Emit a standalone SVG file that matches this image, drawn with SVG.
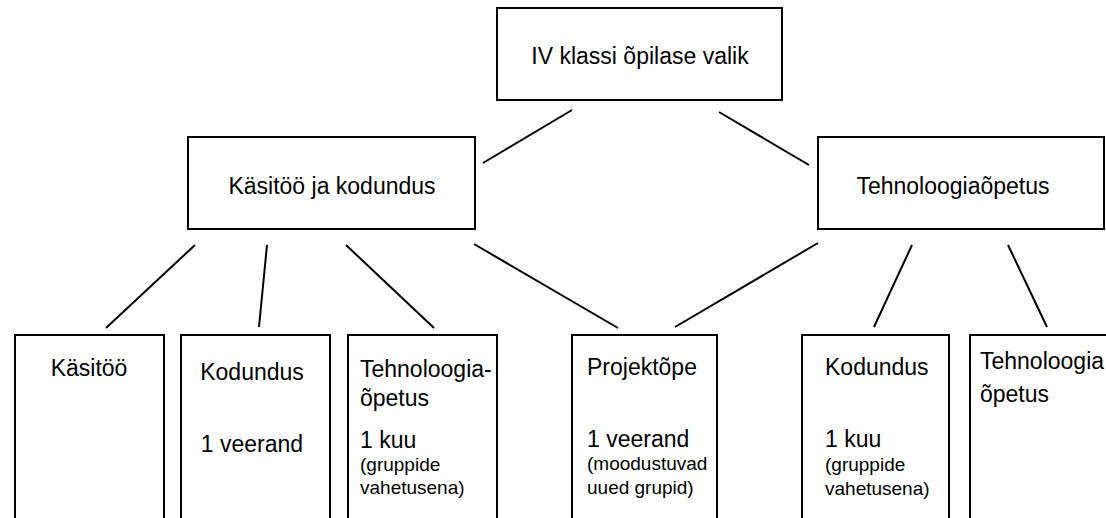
<svg xmlns="http://www.w3.org/2000/svg" width="1106" height="518" viewBox="0 0 1106 518">
<style>
.b{fill:#fff;stroke:#000;stroke-width:2}
.t{font-family:"Liberation Sans",Arial,sans-serif;font-size:23px;fill:#000}
.s{font-family:"Liberation Sans",Arial,sans-serif;font-size:19px;fill:#000}
.c{text-anchor:middle}
.l{stroke:#000;stroke-width:2;fill:none}
</style>
<rect width="1106" height="518" fill="#fff"/>
<g id="connectors">
<line class="l" x1="572" y1="110" x2="483" y2="163"/>
<line class="l" x1="719" y1="112" x2="809" y2="165"/>
<line class="l" x1="195" y1="245" x2="106" y2="328"/>
<line class="l" x1="267" y1="245" x2="259" y2="327"/>
<line class="l" x1="346" y1="245" x2="434" y2="328"/>
<line class="l" x1="474" y1="244" x2="618" y2="328"/>
<line class="l" x1="818" y1="243" x2="675" y2="327"/>
<line class="l" x1="912" y1="245" x2="874" y2="327"/>
<line class="l" x1="1008" y1="245" x2="1047" y2="327"/>
</g>
<g id="root">
<rect class="b" x="497" y="8" width="285" height="92"/>
<text class="t c" x="640" y="64">IV klassi õpilase valik</text>
</g>
<g id="kasitoo-kodundus">
<rect class="b" x="188" y="137" width="287" height="92"/>
<text class="t c" x="332" y="194">Käsitöö ja kodundus</text>
</g>
<g id="tehnoloogiaopetus">
<rect class="b" x="818" y="137" width="286" height="92"/>
<text class="t c" x="953" y="194">Tehnoloogiaõpetus</text>
</g>
<g id="kasitoo">
<rect class="b" x="15" y="335" width="149" height="200"/>
<text class="t c" x="89" y="376">Käsitöö</text>
</g>
<g id="kodundus1">
<rect class="b" x="181" y="335" width="149" height="200"/>
<text class="t c" x="252" y="380">Kodundus</text>
<text class="t c" x="252" y="452">1 veerand</text>
</g>
<g id="tehnoloogia1">
<rect class="b" x="348" y="335" width="149" height="200"/>
<text class="t" x="360" y="377">Tehnoloogia-</text>
<text class="t" x="360" y="406">õpetus</text>
<text class="t" x="360" y="448">1 kuu</text>
<text class="s" x="360" y="471">(gruppide</text>
<text class="s" x="360" y="494">vahetusena)</text>
</g>
<g id="projektope">
<rect class="b" x="572" y="335" width="145" height="200"/>
<text class="t" x="587" y="375">Projektõpe</text>
<text class="t" x="587" y="447">1 veerand</text>
<text class="s" x="587" y="470">(moodustuvad</text>
<text class="s" x="587" y="494">uued grupid)</text>
</g>
<g id="kodundus2">
<rect class="b" x="802" y="335" width="147" height="200"/>
<text class="t" x="825" y="375">Kodundus</text>
<text class="t" x="825" y="447">1 kuu</text>
<text class="s" x="825" y="471">(gruppide</text>
<text class="s" x="825" y="495">vahetusena)</text>
</g>
<g id="tehnoloogia2">
<rect class="b" x="970" y="335" width="150" height="200"/>
<text class="t" x="980" y="369">Tehnoloogia</text>
<text class="t" x="980" y="402">õpetus</text>
</g>
</svg>
